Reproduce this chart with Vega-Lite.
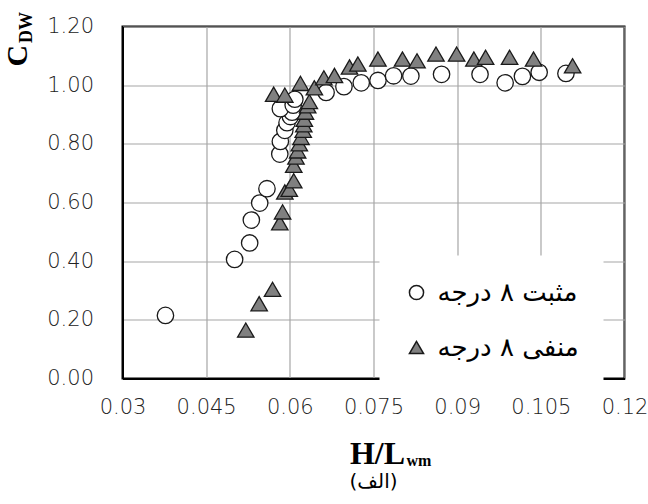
{
  "$schema": "https://vega.github.io/schema/vega-lite/v6.json",
  "width": 502,
  "height": 352,
  "autosize": {"type": "none"},
  "padding": {"left": 122.5, "top": 26.5, "right": 23.5, "bottom": 125.5},
  "background": "white",
  "config": {
    "view": {"stroke": "black", "strokeWidth": 2},
    "axis": {
      "labelFont": "DejaVu Sans",
      "labelFontSize": 21,
      "labelFontWeight": 200,
      "labelColor": "#222222",
      "ticks": false,
      "tickSize": 0,
      "domainColor": "black",
      "domainWidth": 2,
      "gridColor": "#a6a6a6",
      "gridWidth": 1.2,
      "labelFlush": false,
      "labelOverlap": false,
      "title": null
    }
  },
  "layer": [
    {
      "data": {
        "values": [
          {"x": 0.0377, "cdw": 0.215, "series": "مثبت ۸ درجه"},
          {"x": 0.0501, "cdw": 0.406, "series": "مثبت ۸ درجه"},
          {"x": 0.0528, "cdw": 0.462, "series": "مثبت ۸ درجه"},
          {"x": 0.0531, "cdw": 0.540, "series": "مثبت ۸ درجه"},
          {"x": 0.0546, "cdw": 0.598, "series": "مثبت ۸ درجه"},
          {"x": 0.0559, "cdw": 0.647, "series": "مثبت ۸ درجه"},
          {"x": 0.0582, "cdw": 0.765, "series": "مثبت ۸ درجه"},
          {"x": 0.0583, "cdw": 0.808, "series": "مثبت ۸ درجه"},
          {"x": 0.0591, "cdw": 0.846, "series": "مثبت ۸ درجه"},
          {"x": 0.0595, "cdw": 0.872, "series": "مثبت ۸ درجه"},
          {"x": 0.0601, "cdw": 0.893, "series": "مثبت ۸ درجه"},
          {"x": 0.0604, "cdw": 0.908, "series": "مثبت ۸ درجه"},
          {"x": 0.0583, "cdw": 0.920, "series": "مثبت ۸ درجه"},
          {"x": 0.0606, "cdw": 0.932, "series": "مثبت ۸ درجه"},
          {"x": 0.0609, "cdw": 0.952, "series": "مثبت ۸ درجه"},
          {"x": 0.0665, "cdw": 0.975, "series": "مثبت ۸ درجه"},
          {"x": 0.0697, "cdw": 0.995, "series": "مثبت ۸ درجه"},
          {"x": 0.0728, "cdw": 1.008, "series": "مثبت ۸ درجه"},
          {"x": 0.0758, "cdw": 1.016, "series": "مثبت ۸ درجه"},
          {"x": 0.0786, "cdw": 1.032, "series": "مثبت ۸ درجه"},
          {"x": 0.0817, "cdw": 1.031, "series": "مثبت ۸ درجه"},
          {"x": 0.0872, "cdw": 1.037, "series": "مثبت ۸ درجه"},
          {"x": 0.0941, "cdw": 1.037, "series": "مثبت ۸ درجه"},
          {"x": 0.0986, "cdw": 1.008, "series": "مثبت ۸ درجه"},
          {"x": 0.1017, "cdw": 1.030, "series": "مثبت ۸ درجه"},
          {"x": 0.1047, "cdw": 1.044, "series": "مثبت ۸ درجه"},
          {"x": 0.1095, "cdw": 1.040, "series": "مثبت ۸ درجه"},
          {"x": 0.0521, "cdw": 0.165, "series": "منفی ۸ درجه"},
          {"x": 0.0545, "cdw": 0.255, "series": "منفی ۸ درجه"},
          {"x": 0.0569, "cdw": 0.304, "series": "منفی ۸ درجه"},
          {"x": 0.0582, "cdw": 0.531, "series": "منفی ۸ درجه"},
          {"x": 0.0587, "cdw": 0.568, "series": "منفی ۸ درجه"},
          {"x": 0.0591, "cdw": 0.636, "series": "منفی ۸ درجه"},
          {"x": 0.0599, "cdw": 0.645, "series": "منفی ۸ درجه"},
          {"x": 0.0607, "cdw": 0.674, "series": "منفی ۸ درجه"},
          {"x": 0.0607, "cdw": 0.727, "series": "منفی ۸ درجه"},
          {"x": 0.0611, "cdw": 0.755, "series": "منفی ۸ درجه"},
          {"x": 0.0614, "cdw": 0.776, "series": "منفی ۸ درجه"},
          {"x": 0.0617, "cdw": 0.800, "series": "منفی ۸ درجه"},
          {"x": 0.0620, "cdw": 0.822, "series": "منفی ۸ درجه"},
          {"x": 0.0624, "cdw": 0.846, "series": "منفی ۸ درجه"},
          {"x": 0.0625, "cdw": 0.865, "series": "منفی ۸ درجه"},
          {"x": 0.0626, "cdw": 0.884, "series": "منفی ۸ درجه"},
          {"x": 0.0628, "cdw": 0.908, "series": "منفی ۸ درجه"},
          {"x": 0.0632, "cdw": 0.930, "series": "منفی ۸ درجه"},
          {"x": 0.0635, "cdw": 0.944, "series": "منفی ۸ درجه"},
          {"x": 0.0571, "cdw": 0.969, "series": "منفی ۸ درجه"},
          {"x": 0.0591, "cdw": 0.966, "series": "منفی ۸ درجه"},
          {"x": 0.0619, "cdw": 1.006, "series": "منفی ۸ درجه"},
          {"x": 0.0644, "cdw": 0.991, "series": "منفی ۸ درجه"},
          {"x": 0.0661, "cdw": 1.025, "series": "منفی ۸ درجه"},
          {"x": 0.0680, "cdw": 1.033, "series": "منفی ۸ درجه"},
          {"x": 0.0707, "cdw": 1.062, "series": "منفی ۸ درجه"},
          {"x": 0.0722, "cdw": 1.072, "series": "منفی ۸ درجه"},
          {"x": 0.0758, "cdw": 1.089, "series": "منفی ۸ درجه"},
          {"x": 0.0802, "cdw": 1.089, "series": "منفی ۸ درجه"},
          {"x": 0.0828, "cdw": 1.083, "series": "منفی ۸ درجه"},
          {"x": 0.0862, "cdw": 1.106, "series": "منفی ۸ درجه"},
          {"x": 0.0899, "cdw": 1.106, "series": "منفی ۸ درجه"},
          {"x": 0.0930, "cdw": 1.089, "series": "منفی ۸ درجه"},
          {"x": 0.0951, "cdw": 1.095, "series": "منفی ۸ درجه"},
          {"x": 0.0994, "cdw": 1.095, "series": "منفی ۸ درجه"},
          {"x": 0.1037, "cdw": 1.089, "series": "منفی ۸ درجه"},
          {"x": 0.1107, "cdw": 1.066, "series": "منفی ۸ درجه"}
        ]
      },
      "mark": {"type": "point", "filled": true, "stroke": "#1a1a1a", "strokeWidth": 1.3, "opacity": 1, "size": 270},
      "encoding": {
        "x": {
          "field": "x", "type": "quantitative",
          "scale": {"domain": [0.03, 0.12], "nice": false, "zero": false},
          "axis": {"values": [0.03, 0.045, 0.06, 0.075, 0.09, 0.105, 0.12], "format": "~g", "labelPadding": 18}
        },
        "y": {
          "field": "cdw", "type": "quantitative",
          "scale": {"domain": [0, 1.2], "nice": false},
          "axis": {
            "values": [0, 0.2, 0.4, 0.6, 0.8, 1.0, 1.2], "format": ".2f", "labelPadding": 29,
            "title": "C", "titleFont": "Liberation Serif", "titleFontSize": 30, "titleFontWeight": "bold",
            "titleColor": "black", "titleAngle": 270, "titleAlign": "left", "titleBaseline": "alphabetic",
            "titleX": -96.5, "titleY": 39.5
          }
        },
        "shape": {
          "field": "series", "type": "nominal",
          "scale": {"domain": ["مثبت ۸ درجه", "منفی ۸ درجه"], "range": ["circle", "triangle-up"]},
          "legend": {
            "title": null, "orient": "none", "legendX": 257, "legendY": 229,
            "fillColor": "white", "padding": 24,
            "labelFont": "DejaVu Sans", "labelFontSize": 26, "labelColor": "black",
            "symbolSize": 200, "rowPadding": 29, "labelOffset": 8, "direction": "vertical", "labelLimit": 300,
            "encode": {"symbols": {"update": {"stroke": {"value": "black"}, "strokeWidth": {"value": 1.3}}}}
          }
        },
        "fill": {
          "field": "series", "type": "nominal",
          "scale": {"domain": ["مثبت ۸ درجه", "منفی ۸ درجه"], "range": ["white", "#808080"]},
          "legend": {
            "title": null, "orient": "none", "legendX": 257, "legendY": 229,
            "fillColor": "white", "padding": 24,
            "labelFont": "DejaVu Sans", "labelFontSize": 26, "labelColor": "black",
            "symbolSize": 200, "rowPadding": 29, "labelOffset": 8, "direction": "vertical", "labelLimit": 300,
            "encode": {"symbols": {"update": {"stroke": {"value": "black"}, "strokeWidth": {"value": 1.3}}}}
          }
        }
      }
    },
    {
      "data": {"values": [{}]},
      "mark": {"type": "text", "text": "H/L", "font": "Liberation Serif", "fontSize": 32, "fontWeight": "bold", "align": "right", "baseline": "alphabetic", "dx": 31.5, "dy": 85, "color": "black"},
      "encoding": {"x": {"datum": 0.075}, "y": {"datum": 0}}
    },
    {
      "data": {"values": [{}]},
      "mark": {"type": "text", "text": "wm", "font": "Liberation Serif", "fontSize": 16, "fontWeight": "bold", "align": "left", "baseline": "alphabetic", "dx": 33, "dy": 87, "color": "black"},
      "encoding": {"x": {"datum": 0.075}, "y": {"datum": 0}}
    },
    {
      "data": {"values": [{}]},
      "mark": {"type": "text", "text": "(الف)", "font": "DejaVu Sans", "fontSize": 20, "align": "center", "baseline": "middle", "dx": 0, "dy": 103, "color": "black"},
      "encoding": {"x": {"datum": 0.075}, "y": {"datum": 0}}
    },
    {
      "data": {"values": [{}]},
      "mark": {"type": "text", "text": "DW", "font": "Liberation Serif", "fontSize": 18, "fontWeight": "bold", "angle": 270, "align": "left", "baseline": "alphabetic", "dx": -16.5, "dy": -90.5, "color": "black"},
      "encoding": {"x": {"datum": 0.03}, "y": {"datum": 1.2}}
    }
  ]
}
